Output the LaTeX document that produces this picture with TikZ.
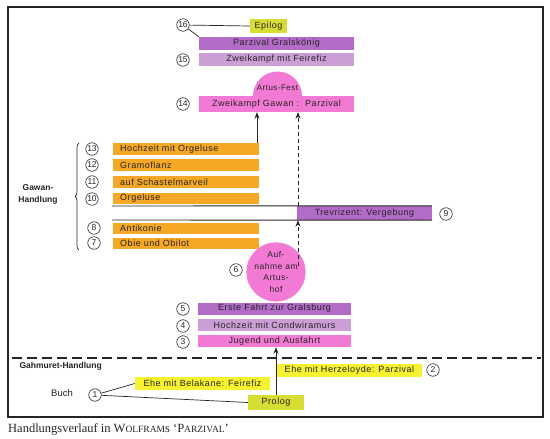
\documentclass[tikz,border=0pt]{standalone}
\usepackage{fontspec}
\setmainfont{Liberation Sans}
\newfontfamily\capfont{Liberation Serif}
\newfontfamily\boxfont[LetterSpace=6]{Liberation Sans}
\usetikzlibrary{arrows.meta,decorations.pathreplacing}
\pgfdeclarelayer{bg}
\pgfsetlayers{bg,main}
\definecolor{yelG}{RGB}{214,222,52}
\definecolor{yel}{RGB}{246,242,48}
\definecolor{purp}{RGB}{178,108,200}
\definecolor{lpurp}{RGB}{204,158,214}
\definecolor{pinkC}{RGB}{242,122,212}
\definecolor{orng}{RGB}{244,168,38}
\definecolor{ink}{RGB}{40,36,36}
\begin{document}
\begin{tikzpicture}[x=1pt,y=-1pt,
 bx/.style={inner sep=0pt, font=\boxfont\fontsize{9}{10}\selectfont, text=ink},
 pb/.style={bx, minimum width=155pt, minimum height=13pt},
 lb/.style={bx, minimum width=153pt, minimum height=12pt},
 ob/.style={bx, fill=orng, anchor=west, minimum height=12pt, text width=132pt, inner xsep=7pt, align=left},
 num/.style={circle, draw=ink, line width=0.6pt, inner sep=0pt, minimum size=12.5pt, font=\fontsize{8.5}{9}\selectfont, text=ink},
 arr/.style={-{Stealth[length=6.5pt,width=5pt]}, line width=0.8pt, draw=ink},
 darr/.style={arr, dash pattern=on 4pt off 3pt},
 thinl/.style={draw=ink, line width=0.7pt},
 lab/.style={font=\bfseries\fontsize{8.5}{12}\selectfont, text=ink}
]
\useasboundingbox (0,0) rectangle (550,439);
\fill[white] (0,0) rectangle (550,439);
\draw[ink, line width=1.2pt] (8,7) rectangle (543,417);

% ---------- top part ----------
\node[bx, fill=yelG, minimum width=37pt, minimum height=14pt] (ep) at (268.5,26) {Epilog};
\node[pb, fill=purp] (gk) at (276.5,43.5) {Parzival Gralskönig};
\node[pb, fill=lpurp] (zf) at (276.5,59.5) {Zweikampf mit Feirefiz};
\begin{scope}
\clip (250,60) rectangle (305,96.5);
\fill[pinkC] (277.5,96) circle (24.5pt);
\end{scope}
\coordinate (dometop) at (277.5,72);
\node[bx, font=\boxfont\fontsize{8}{9}\selectfont] (af) at (277.5,87.5) {Artus-Fest};
\node[pb, fill=pinkC, minimum height=16pt] (zg) at (276.5,104) {Zweikampf Gawan :\ \ Parzival};

\node[num] (n16) at (183,25) {16};
\node[num] (n15) at (183,60) {15};
\node[num] (n14) at (183,104) {14};
\draw[thinl] (n16) -- (ep.west);
\draw[thinl] (n16) -- (gk.north west);

\begin{pgfonlayer}{bg}
\draw[thinl] (ep.south -| dometop) -- (dometop);
\end{pgfonlayer}

% ---------- Gawan part ----------
\node[ob] (g13) at (113,149) {Hochzeit mit Orgeluse};
\node[ob] (g12) at (113,165) {Gramoflanz};
\node[ob] (g11) at (113,182) {auf Schastelmarveil};
\node[ob, minimum height=11pt] (g10) at (113,198.5) {Orgeluse};
\node[ob, minimum height=11pt] (g8) at (113,228.5) {Antikonie};
\node[ob, minimum height=11pt] (g7) at (113,243.5) {Obie und Obilot};

\node[num] (n13) at (92,149) {13};
\node[num] (n12) at (92,165) {12};
\node[num] (n11) at (92,182) {11};
\node[num] (n10) at (92,199) {10};
\node[num] (n8) at (94,228) {8};
\node[num] (n7) at (94,243) {7};

\node[bx, fill=purp, minimum width=135pt, minimum height=14pt] (tv) at (364.5,213) {Trevrizent: Vergebung};
\coordinate (bl1) at (112,206);
\coordinate (bl2) at (112,220);
\draw[ink, line width=0.9pt] (bl1) -- (tv.north east);
\draw[ink, line width=0.9pt] (bl2) -- (tv.south east);
\node[num] (n9) at (446,214) {9};

\coordinate (gb1) at (79,250);
\coordinate (gb2) at (79,143);
\draw[thinl, decorate, decoration={brace, amplitude=4pt}] (gb1) -- (gb2);
\node[lab, align=center] (gw) at (38,194) {Gawan-\\Handlung};

\coordinate (xs) at (257,0);
\coordinate (xd) at (298,0);
\draw[arr] (g13.north -| xs) -- (zg.south -| xs);
\draw[darr] (tv.north -| xd) -- (zg.south -| xd);

% ---------- Aufnahme ----------
\node[bx, circle, fill=pinkC, minimum size=54pt, inner sep=0pt, align=center, font=\boxfont\fontsize{8.5}{11.5}\selectfont] (auf) at (276,272) {Auf-\\nahme am\\Artus-\\hof};
\node[num] (n6) at (236,270) {6};
\coordinate (xd2) at (298,266);
\draw[darr] (xd2) -- (tv.south -| xd);

% ---------- lower Parzival ----------
\node[lb, fill=purp] (ef) at (274.5,308.5) {Erste Fahrt zur Gralsburg};
\node[lb, fill=lpurp] (hc) at (274.5,325) {Hochzeit mit Condwiramurs};
\node[lb, fill=pinkC] (ja) at (274.5,341) {Jugend und Ausfahrt};
\node[num] (n5) at (183,309) {5};
\node[num] (n4) at (183,326) {4};
\node[num] (n3) at (183,342) {3};
\begin{pgfonlayer}{bg}
\draw[thinl] (auf.south) -- (ef.north -| auf.south);
\end{pgfonlayer}

% ---------- Gahmuret ----------
\coordinate (hl) at (12,358);
\coordinate (hr) at (541,358);
\draw[ink, line width=1.3pt, dash pattern=on 10pt off 5pt] (hl) -- (hr);
\node[lab, anchor=west] (gh) at (16,366) {Gahmuret-Handlung};

\node[bx, fill=yel, minimum width=145pt, minimum height=13pt] (eh) at (349.5,370.5) {Ehe mit Herzeloyde: Parzival};
\node[num] (n2) at (433,370) {2};
\node[bx, fill=yel, minimum width=135pt, minimum height=13pt] (eb) at (202.5,383.5) {Ehe mit Belakane: Feirefiz};
\node[bx, fill=yelG, minimum width=56pt, minimum height=15pt] (pr) at (276,402.5) {Prolog};
\draw[arr] (pr.north) -- (ja.south -| pr.north);

\node[font=\fontsize{9.5}{10}\selectfont, text=ink] (bu) at (62,393) {Buch};
\node[num] (n1) at (95,395) {1};
\draw[thinl] (n1) -- (eb.west);
\draw[thinl] (n1) -- (pr.west);

% ---------- caption ----------
\node[anchor=west, inner sep=0pt, font=\capfont\fontsize{12.5}{14}\selectfont, text=ink] (cap) at (8,429)
 {Handlungsverlauf in W{\fontsize{9.5}{12}\selectfont OLFRAM}s ‘P{\fontsize{9.5}{12}\selectfont ARZIVAL}’};
\end{tikzpicture}
\end{document}
